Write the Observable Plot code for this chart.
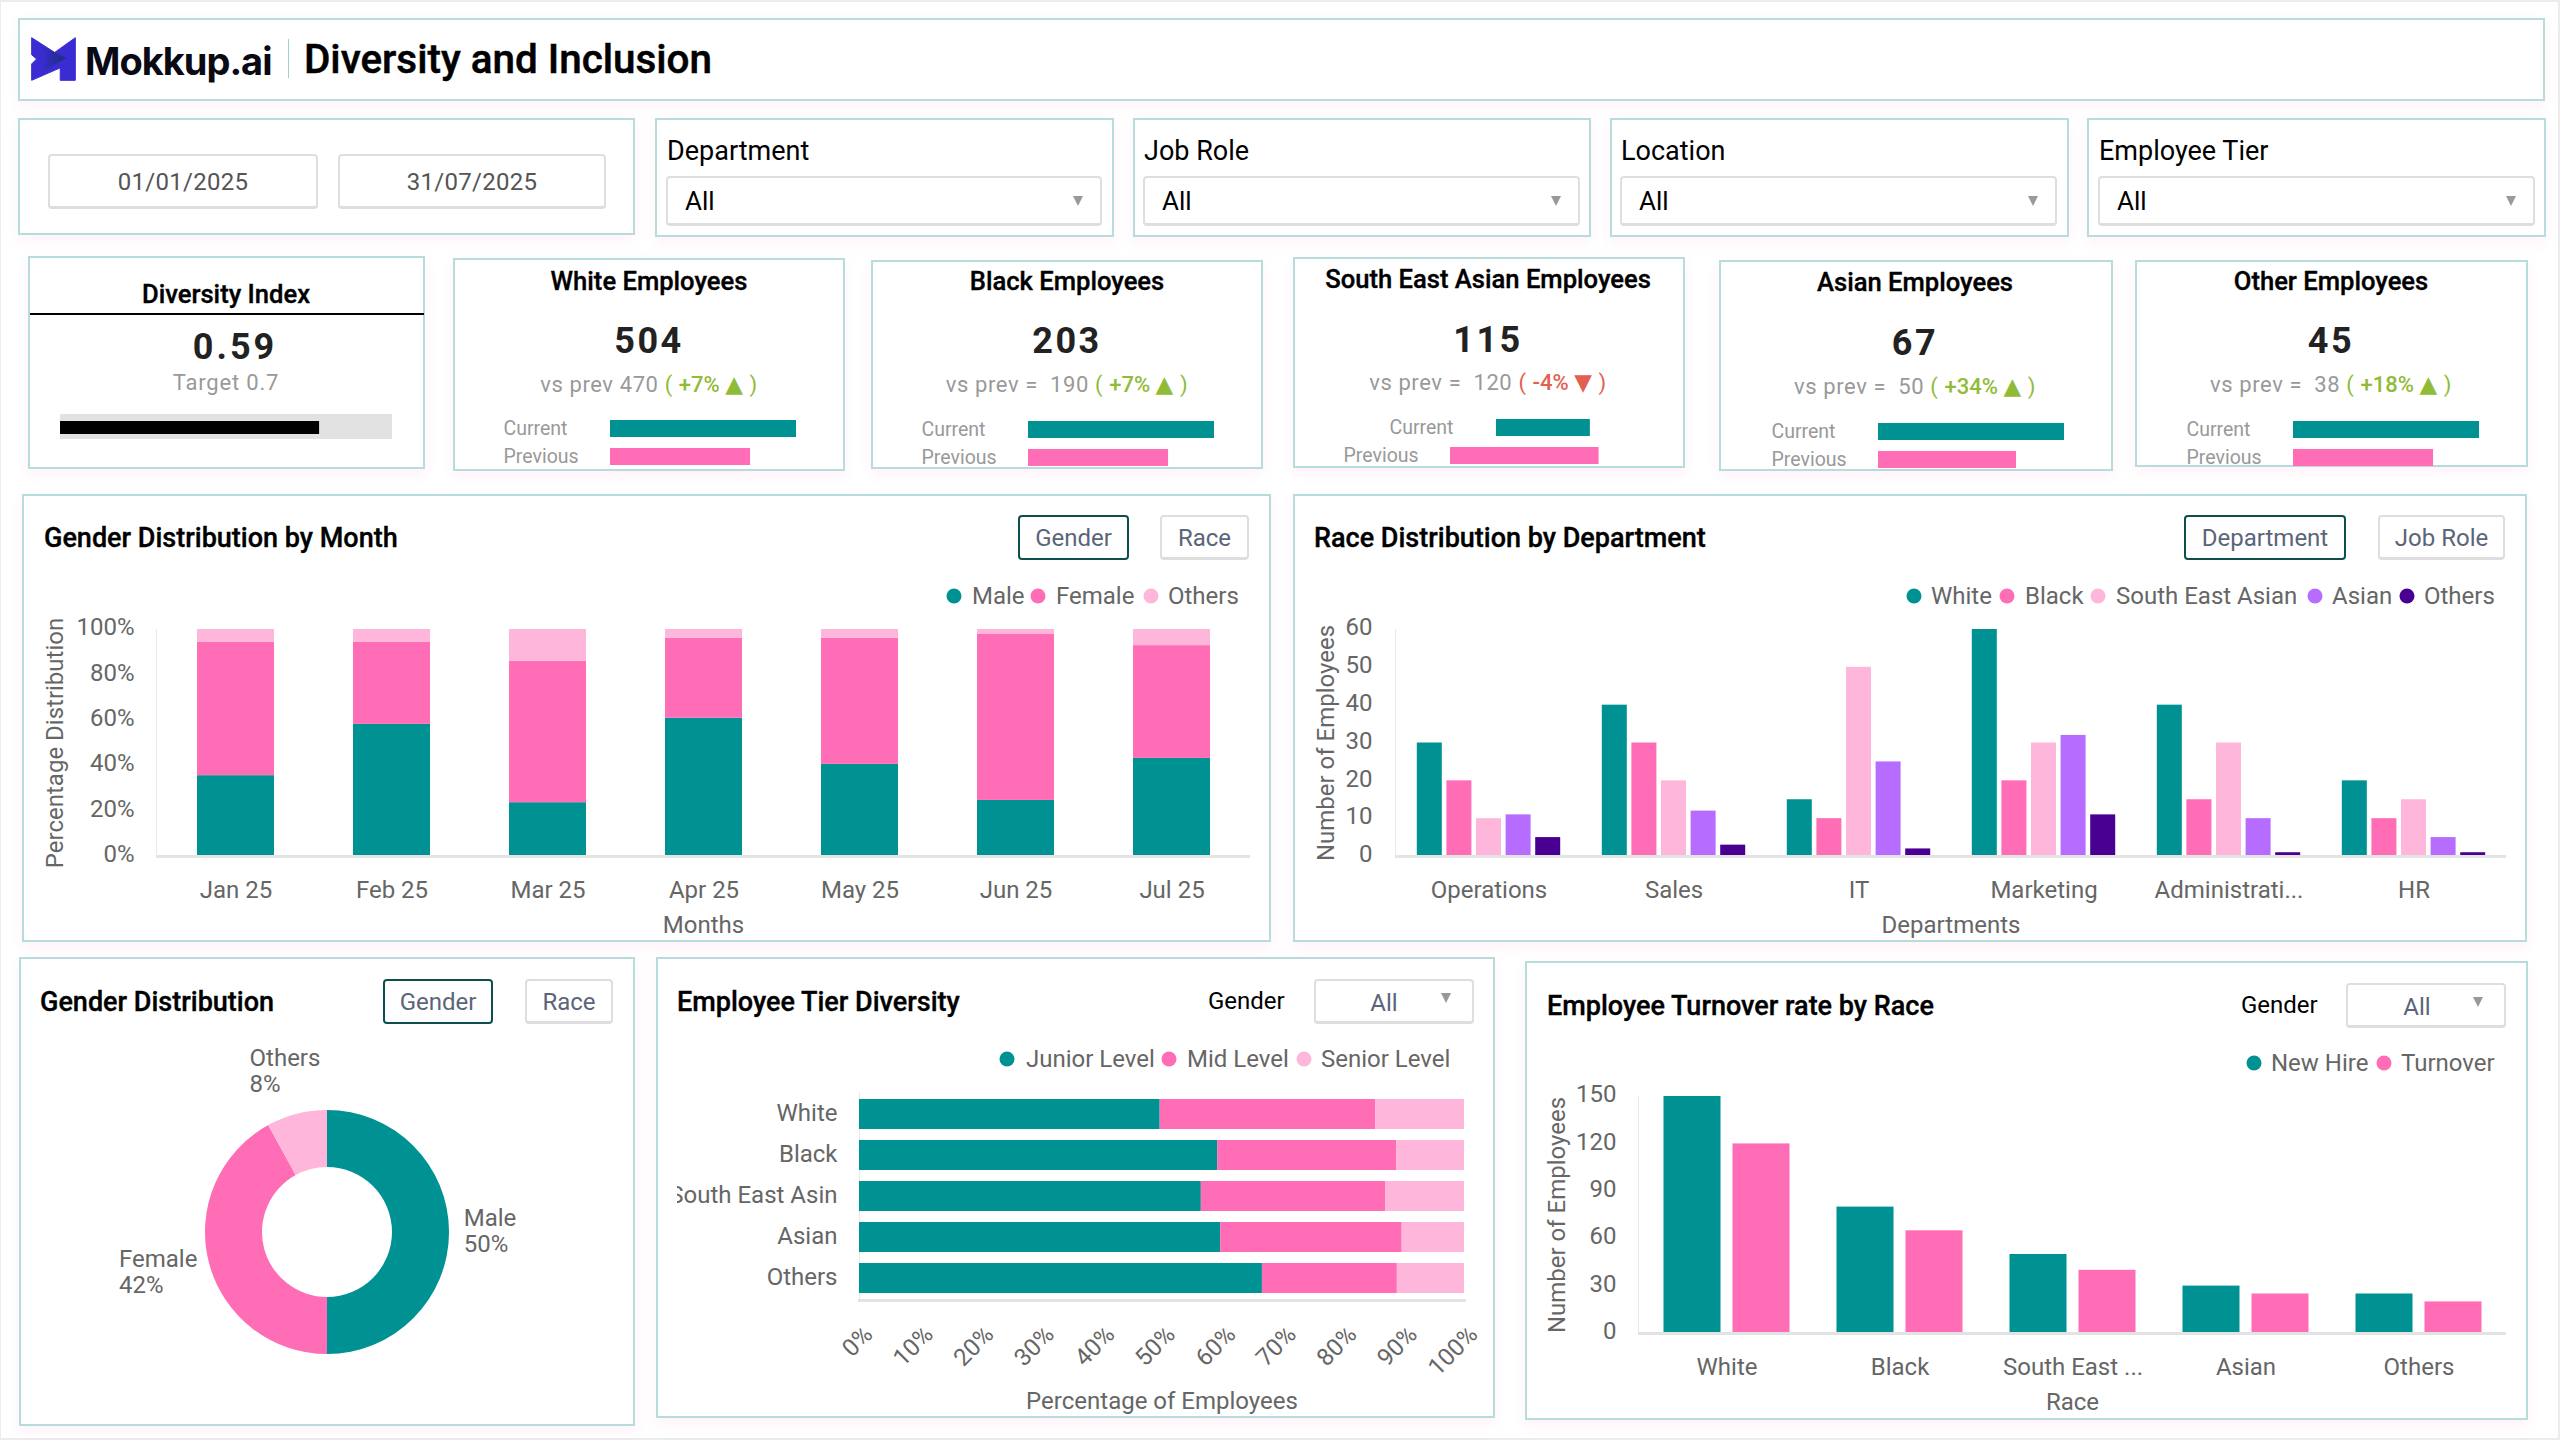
<!DOCTYPE html>
<html><head><meta charset="utf-8">
<script src="https://cdn.jsdelivr.net/npm/d3@7"></script>
<script src="https://cdn.jsdelivr.net/npm/@observablehq/plot@0.6"></script>
<style>
html,body{margin:0;padding:0;background:#ececec;width:2560px;height:1440px;overflow:hidden;font-family:Roboto,sans-serif}
#page{position:absolute;left:1px;top:2px;width:2557px;height:1436px;background:#fff}
#root{position:absolute;left:0;top:0;width:2560px;height:1440px}
.panel{position:absolute;box-sizing:border-box;background:#fff;border:2px solid #b7dcdc;box-shadow:0 5px 12px rgba(255,105,180,.09)}
.t{position:absolute;white-space:pre;line-height:1;transform:translateY(-50%)}
.t.c{transform:translate(-50%,-50%)}
.box{position:absolute;box-sizing:border-box;background:#fff;border:2px solid #dedede;border-bottom-width:3px;border-radius:4px}
.arrow{position:absolute;width:0;height:0;border-left:5px solid transparent;border-right:5px solid transparent;border-top:10px solid #999}
.dot{position:absolute;width:15px;height:15px;border-radius:50%;transform:translate(-50%,-50%)}
.plotwrap{position:absolute}
svg{display:block}
</style></head><body><div id="page"></div><div id="root"></div>
<script>
// ---------- data ----------
const palette = ["#009292","#ff6db6","#ffb6db","#b66dff","#490092"];
const genders = ["Male","Female","Others"];
const months = ["Jan 25","Feb 25","Mar 25","Apr 25","May 25","Jun 25","Jul 25"];
const malePct   = [35.6,58.2,23.7,60.9,40.6,24.7,43.2];
const femalePct = [58.7,36.1,62.3,35.3,55.6,73.3,49.7];
const otherPct  = [5.7,5.7,14,3.8,3.8,2,7.1];

const races = ["White","Black","South East Asian","Asian","Others"];
const departments = ["Operations","Sales","IT","Marketing","Administrati...","HR"];
const whiteByDept = [30,40,15,60,40,20];
const blackByDept = [20,30,10,20,15,10];
const seaByDept   = [10,20,50,30,30,15];
const asianByDept = [11,12,25,32,10,5];
const otherByDept = [5,3,2,11,1,1];

const genderShare = [50,42,8];

const tierLevels = ["Junior Level","Mid Level","Senior Level"];
const tierRaces = ["White","Black","South East Asin","Asian","Others"];
const juniorPct = [49.7,59.2,56.5,59.7,66.6];
const midPct    = [35.6,29.6,30.5,30.0,22.3];
const seniorPct = [14.7,11.2,13.0,10.3,11.1];
const pctTicks = [0,10,20,30,40,50,60,70,80,90,100];

const turnoverRaces = ["White","Black","South East ...","Asian","Others"];
const turnoverSeries = ["New Hire","Turnover"];
const newHires  = [150,80,50,30,25];
const turnovers = [120,65,40,25,20];

const kpiTitles = ["White Employees","Black Employees","South East Asian Employees","Asian Employees","Other Employees"];
const kpiValues = [504,203,115,67,45];
const kpiPrevLabels = ["vs prev 470","vs prev =  190","vs prev =  120","vs prev =  50","vs prev =  38"];
const kpiChanges = ["+7%","+7%","-4%","+34%","+18%"];
const kpiCurrentStart = [0,0,24.7,0,0];
const kpiCurrentEnd   = [100,100,75.2,100,100];
const kpiPreviousEnd  = [75.3,75.3,79.9,74.2,75.3];
const diversityIndex = 0.59, diversityScaleMax = 0.756;

// ---------- helpers ----------
const root = document.getElementById("root");
const FS = "Roboto, sans-serif";
function el(cls, css, txt){const d=document.createElement("div");d.className=cls;Object.assign(d.style,css);if(txt!=null)d.textContent=txt;root.appendChild(d);return d;}
function panel(x0,y0,x1,y1){return el("panel",{left:x0+"px",top:y0+"px",width:(x1-x0)+"px",height:(y1-y0)+"px"});}
function text(x,y,s,size,color,weight,extra){return el("t",Object.assign({left:x+"px",top:y+"px",fontSize:size+"px",color:color,fontWeight:weight||400},extra||{}),s);}
function ctext(x,y,s,size,color,weight,extra){const d=text(x,y,s,size,color,weight,extra);d.classList.add("c");return d;}
function box(x0,y0,x1,y1,extra){return el("box",Object.assign({left:x0+"px",top:y0+"px",width:(x1-x0)+"px",height:(y1-y0)+"px"},extra||{}));}
function arrow(cx,cy){el("arrow",{left:(cx-5)+"px",top:(cy-5)+"px"});}
function seg(x0,x1,y0,y1,label,active){
  box(x0,y0,x1,y1,active?{border:"2px solid #0d4f4f"}:{});
  ctext((x0+x1)/2,(y0+y1)/2,label,24,"#5b6579");
}
function legend(y,items){items.forEach(([dx,tx,label,color])=>{
  el("dot",{left:dx+"px",top:y+"px",background:color});
  text(tx,y,label,24,"#666");
});}
function place(plot,left,top){const w=document.createElement("div");w.className="plotwrap";w.style.left=left+"px";w.style.top=top+"px";w.appendChild(plot);root.appendChild(w);return plot;}
const plotStyle={background:"transparent",fontFamily:FS,fontSize:"24px",color:"#666"};
const axisGrey="#e3e3e3";
const heavy={WebkitTextStroke:"0.35px #000"};

// ---------- frame panels ----------
panel(18,18,2545,101);
panel(18,118,635,235);
panel(655,118,1114,237);panel(1133,118,1591,237);panel(1610,118,2069,237);panel(2087,118,2546,237);
const kpiBoxes=[[453,258,845,471],[871,260,1263,469],[1293,257,1685,468],[1719,260,2113,471],[2135,260,2528,467]];
panel(28,256,425,469);
kpiBoxes.forEach(b=>panel(...b));
panel(22,494,1271,942);panel(1293,494,2527,942);
panel(19,957,635,1426);panel(656,957,1495,1418);panel(1525,961,2528,1420);

// ---------- header ----------
const logo=document.createElementNS("http://www.w3.org/2000/svg","svg");
logo.setAttribute("width","45");logo.setAttribute("height","44");logo.setAttribute("viewBox","-2 -2 137 134");
logo.innerHTML='<defs><linearGradient id="lg" x1="0" x2="1" y1="0" y2="0"><stop offset="0" stop-color="#3a2bd2"/><stop offset="1" stop-color="#1b2f7c"/></linearGradient></defs>'+
 '<polygon points="0,0 70,45 133,0 133,130 87,130 87,92 0,130 0,80 15,65 0,52" fill="#3a2bd2" stroke="#3a2bd2" stroke-width="3" stroke-linejoin="round"/>'+
 '<polygon points="25,22 105,62 30,105 45,62" fill="url(#lg)"/>';
const lw=document.createElement("div");lw.style.cssText="position:absolute;left:31px;top:37px";lw.appendChild(logo);root.appendChild(lw);
text(85,61,"Mokkup.ai",38,"#0a0a14",700,{fontFamily:"Inter, sans-serif",letterSpacing:"-1px"});
el("",{position:"absolute",left:"288px",top:"39px",width:"1px",height:"39px",background:"#9fcfcf"});
text(304,60,"Diversity and Inclusion",40.4,"#000",500,{WebkitTextStroke:"0.5px #000"});

// ---------- filters ----------
box(48,154,318,209);box(338,154,606,209);
ctext(183,182,"01/01/2025",24,"#555",400,{letterSpacing:"0.3px"});
ctext(472,182,"31/07/2025",24,"#555",400,{letterSpacing:"0.3px"});
[["Department",667,1101],["Job Role",1144,1579],["Location",1621,2056],["Employee Tier",2099,2534]].forEach(([l,x0,x1])=>{
  text(x0,151,l,27,"#000");
  box(x0-1,176,x1+1,226);
  text(x0+18,201,"All",26,"#000");
  arrow(x1-23,201);
});

// ---------- KPI cards ----------
ctext(226,295,"Diversity Index",25.6,"#000",500,heavy);
el("",{position:"absolute",left:"30px",top:"313px",width:"394px",height:"2px",background:"#000"});
ctext(235,346.5,"0.59",36,"#222",700,{letterSpacing:"3px"});
ctext(226,383,"Target 0.7",22,"#999",400,{letterSpacing:"0.8px"});
place(Plot.plot({width:332,height:25,margin:0,style:plotStyle,
  x:{domain:[0,diversityScaleMax],range:[0,332],axis:null},y:{domain:[0,1],range:[25,0],axis:null},
  marks:[
    Plot.rectX([diversityScaleMax],{x1:0,x2:d=>d,y1:0,y2:1,fill:"#e2e2e2"}),
    Plot.rectX([diversityIndex],{x1:0,x2:d=>d,y1:.2,y2:.72,fill:"#000"})
  ]}),60,414);

const kpiLay=[
 {cx:649,ty:282,vy:340.5,ly:384,bar:610,top:419},
 {cx:1067,ty:282,vy:340.5,ly:384,bar:1028,top:419.5},
 {cx:1488,ty:280,vy:339.5,ly:382,bar:1450,top:418},
 {cx:1915,ty:283,vy:342.5,ly:386,bar:1878,top:421.5},
 {cx:2331,ty:282,vy:340.5,ly:384,bar:2293,top:420}];
kpiTitles.forEach((title,i)=>{
  const L=kpiLay[i];
  ctext(L.cx,L.ty,title,25.6,"#000",500,heavy);
  ctext(L.cx,L.vy,String(kpiValues[i]),36,"#222",700,{letterSpacing:"2.5px"});
  const up=kpiChanges[i][0]==="+", col=up?"#8fbb37":"#e2604f";
  const d=ctext(L.cx,L.ly,"",22,"#999",400,{letterSpacing:"0.6px"});
  const a=document.createElement("span");a.textContent=kpiPrevLabels[i]+" ";
  const b=document.createElement("span");b.style.color=col;b.textContent="( ";
  const m=document.createElement("span");m.style.color=col;m.style.fontWeight=500;m.style.letterSpacing="0";m.textContent=kpiChanges[i]+" ";
  const tri=document.createElement("span");tri.style.cssText="color:"+col+";font-family:'DejaVu Sans';font-size:23px";tri.textContent=up?"▲":"▼";
  const e=document.createElement("span");e.style.color=col;e.textContent=" )";
  [a,b,m,tri,e].forEach(x=>d.appendChild(x));
  const rows=[
    {k:"Current",x1:kpiCurrentStart[i],x2:kpiCurrentEnd[i]},
    {k:"Previous",x1:0,x2:kpiPreviousEnd[i]}];
  place(Plot.plot({width:300,height:46,marginLeft:107,marginRight:7,marginTop:0,marginBottom:0,style:Object.assign({},plotStyle,{fontSize:"19.5px",overflow:"visible"}),
    x:{domain:[0,100],range:[107,293],axis:null},
    y:{domain:["Current","Previous"],range:[0,46],paddingInner:.41,paddingOuter:0,axis:null},
    color:{domain:["Current","Previous"],range:[palette[0],palette[1]]},
    marks:[
      Plot.barX(rows,{x1:"x1",x2:"x2",y:"k",fill:"k"}),
      Plot.text(rows,{x:"x1",y:"k",text:"k",dx:-107,textAnchor:"start",fill:"#999",fontSize:19.5})
    ]}),L.bar-107,L.top);
});

// ---------- Gender Distribution by Month ----------
text(44,538,"Gender Distribution by Month",27,"#000",500,heavy);
seg(1018,1129,515,560,"Gender",true);seg(1160,1249,515,560,"Race",false);
legend(596,[[954,972,"Male",palette[0]],[1038,1056,"Female",palette[1]],[1151,1168,"Others",palette[2]]]);
const monthRows=months.flatMap((m,i)=>[
  {m,g:"Male",v:malePct[i]},{m,g:"Female",v:femalePct[i]},{m,g:"Others",v:otherPct[i]}]);
place(Plot.plot({width:1240,height:330,marginLeft:135,marginRight:11,marginTop:19,marginBottom:84,style:plotStyle,
  x:{domain:months,paddingInner:.507,paddingOuter:.2535,axis:null},
  y:{domain:[0,100],axis:null},
  color:{domain:genders,range:palette.slice(0,3)},
  marks:[
    Plot.frame({anchor:"left",stroke:"#e9e9e9"}),
    Plot.barY(monthRows,{x:"m",y:"v",fill:"g",order:genders}),
    Plot.ruleY([0],{stroke:axisGrey,strokeWidth:3}),
    Plot.axisY({ticks:[0,20,40,60,80,100],tickFormat:d=>d+"%",tickSize:0,tickPadding:22,dy:-2,label:"Percentage Distribution",labelAnchor:"center",labelArrow:"none",labelOffset:111}),
    Plot.axisX({tickSize:0,tickPadding:24,label:"Months",labelAnchor:"center",labelArrow:"none",labelOffset:76})
  ]}),21,610);

// ---------- Race Distribution by Department ----------
text(1314,538,"Race Distribution by Department",27,"#000",500,heavy);
seg(2184,2346,515,560,"Department",true);seg(2378,2505,515,560,"Job Role",false);
legend(596,[[1914,1931,"White",palette[0]],[2007,2025,"Black",palette[1]],[2098,2116,"South East Asian",palette[2]],[2315,2332,"Asian",palette[3]],[2407,2424,"Others",palette[4]]]);
const raceSeries=[whiteByDept,blackByDept,seaByDept,asianByDept,otherByDept];
const RACE_STEP=29.6; // pixel spacing of the dodged bars within a department
place(Plot.plot({width:1234,height:330,marginLeft:102,marginRight:21,marginTop:19,marginBottom:84,style:plotStyle,
  x:{domain:departments,paddingInner:1-25/185.2,paddingOuter:(1-25/185.2)/2,axis:null},
  y:{domain:[0,60],axis:null},
  color:{domain:races,range:palette},
  marks:[
    Plot.frame({anchor:"left",stroke:"#e9e9e9"}),
    ...raceSeries.map((s,j)=>Plot.barY(departments.map((d,i)=>({d,r:races[j],v:s[i]})),{x:"d",y:"v",fill:{value:"r",scale:"color"},dx:(j-2)*RACE_STEP})),
    Plot.ruleY([0],{stroke:axisGrey,strokeWidth:3}),
    Plot.axisY({ticks:[0,10,20,30,40,50,60],tickSize:0,tickPadding:23,dy:-2,label:"Number of Employees",labelAnchor:"center",labelArrow:"none",labelOffset:79}),
    Plot.axisX({tickSize:0,tickPadding:24,label:"Departments",labelAnchor:"center",labelArrow:"none",labelOffset:76})
  ]}),1293,610);

// ---------- Gender Distribution donut ----------
text(40,1002,"Gender Distribution",27,"#000",500,heavy);
seg(383,493,979,1024,"Gender",true);seg(525,613,979,1024,"Race",false);
const donutLabelShift=[-2,-9,-1];
function donutMark(index,scales,values,dim){
  const g=d3.create("svg:g").attr("transform",`translate(${dim.width/2},${dim.height/2})`);
  const arcs=d3.pie().sort(null)(genderShare);
  const arc=d3.arc().innerRadius(65).outerRadius(122);
  const lab=d3.arc().innerRadius(165).outerRadius(165);
  const ctx=document.createElement("canvas").getContext("2d");ctx.font="24px Roboto";
  arcs.forEach((a,i)=>{
    g.append("path").attr("d",arc(a)).attr("fill",palette[i]);
    const [x,y]=lab.centroid(a);
    const s=genderShare[i]+"%";
    const w=Math.max(ctx.measureText(genders[i]).width,ctx.measureText(s).width);
    const tx=x-w/2+donutLabelShift[i];
    const t=g.append("text").attr("fill","#666").attr("font-size",24).attr("text-anchor","start").attr("x",tx).attr("y",y-1);
    t.append("tspan").attr("x",tx).attr("dy","-0.2em").text(genders[i]);
    t.append("tspan").attr("x",tx).attr("dy","1.08em").text(s);
  });
  return g.node();
}
place(Plot.plot({width:560,height:380,margin:0,style:plotStyle,x:{axis:null},y:{axis:null},marks:[donutMark]}),47,1042);

// ---------- Employee Tier Diversity ----------
text(677,1002,"Employee Tier Diversity",27,"#000",500,heavy);
text(1208,1001,"Gender",24,"#000",400);
box(1314,979,1474,1024);ctext(1384,1003,"All",24,"#5b6579");arrow(1446,998);
legend(1059,[[1007,1026,"Junior Level",palette[0]],[1169,1187,"Mid Level",palette[1]],[1304,1321,"Senior Level",palette[2]]]);
const tierRows=tierRaces.flatMap((r,i)=>[juniorPct,midPct,seniorPct].map((s,j)=>({r,l:tierLevels[j],v:s[i]})));
place(Plot.plot({width:813,height:335,marginLeft:182,marginRight:26,marginTop:12,marginBottom:115,style:plotStyle,
  x:{domain:[0,100],axis:null},
  y:{domain:tierRaces,paddingInner:.28,paddingOuter:.14,axis:null},
  color:{domain:tierLevels,range:palette.slice(0,3)},
  marks:[
    Plot.frame({anchor:"left",stroke:"#e9e9e9"}),
    Plot.frame({anchor:"bottom",stroke:axisGrey,strokeWidth:3}),
    Plot.barX(tierRows,{x:"v",y:"r",fill:"l",order:tierLevels}),
    Plot.axisY({tickSize:0,tickPadding:22,dy:-1,label:null}),
    Plot.axisX({ticks:pctTicks,tickFormat:d=>d+"%",tickSize:0,tickPadding:30,tickRotate:-45,dx:9,label:null}),
    Plot.axisX({ticks:[],tickSize:0,label:"Percentage of Employees",labelAnchor:"center",labelArrow:"none",labelOffset:108})
  ]}),677,1080);

// ---------- Employee Turnover ----------
text(1547,1006,"Employee Turnover rate by Race",27,"#000",500,heavy);
text(2241,1005,"Gender",24,"#000",400);
box(2346,983,2506,1028);ctext(2417,1007,"All",24,"#5b6579");arrow(2478,1002);
legend(1063,[[2254,2271,"New Hire",palette[0]],[2384,2401,"Turnover",palette[1]]]);
const TURN_STEP=69;
place(Plot.plot({width:1003,height:335,marginLeft:115,marginRight:20,marginTop:16,marginBottom:82,style:plotStyle,
  x:{domain:turnoverRaces,paddingInner:1-57/173.6,paddingOuter:(1-57/173.6)/2,axis:null},
  y:{domain:[0,150],axis:null},
  color:{domain:turnoverSeries,range:palette.slice(0,2)},
  marks:[
    Plot.frame({anchor:"left",stroke:"#e9e9e9"}),
    Plot.barY(turnoverRaces.map((r,i)=>({r,s:"New Hire",v:newHires[i]})),{x:"r",y:"v",fill:"s",dx:-TURN_STEP/2}),
    Plot.barY(turnoverRaces.map((r,i)=>({r,s:"Turnover",v:turnovers[i]})),{x:"r",y:"v",fill:"s",dx:TURN_STEP/2}),
    Plot.ruleY([0],{stroke:axisGrey,strokeWidth:3}),
    Plot.axisY({ticks:[0,30,60,90,120,150],tickSize:0,tickPadding:22,dy:-2,label:"Number of Employees",labelAnchor:"center",labelArrow:"none",labelOffset:91}),
    Plot.axisX({tickSize:0,tickPadding:24,label:"Race",labelAnchor:"center",labelArrow:"none",labelOffset:76})
  ]}),1523,1080);
</script></body></html>
